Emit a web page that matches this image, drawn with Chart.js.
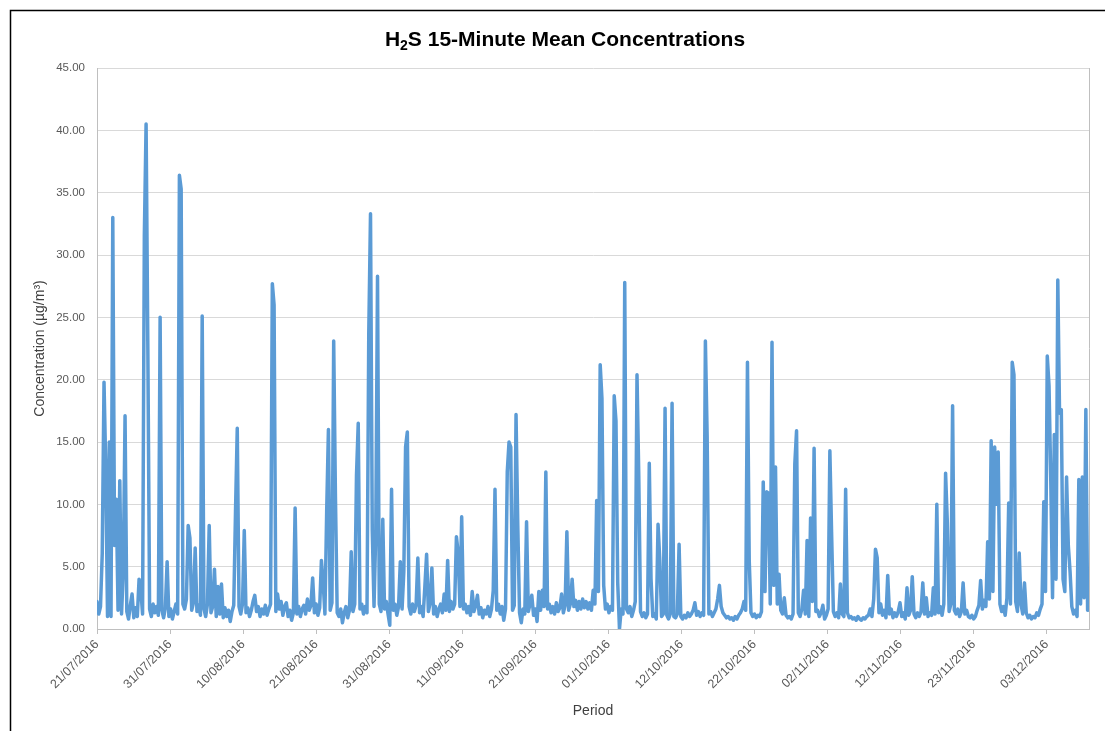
<!DOCTYPE html>
<html>
<head>
<meta charset="utf-8">
<title>H2S 15-Minute Mean Concentrations</title>
<script src="https://cdn.jsdelivr.net/npm/chart.js@4.4.0/dist/chart.umd.min.js"></script>
<style>
    html, body { margin: 0; padding: 0; background: #fff; }
    #wrap { position: relative; width: 1105px; height: 731px; }
</style>
</head>
<body>
<div id="wrap"><canvas id="myChart" width="1105" height="731"></canvas></div>
<script>
// readings kept every 6 hours (day 0 = 21/07/2016 00:00)
var stepDays = 0.25;
// Excel put a date label on every 1000th 15-minute reading
var daysPerLabel = 1000 / 96;
var lastDay = 141.45;

var tickLabels = ['21/07/2016', '31/07/2016', '10/08/2016', '21/08/2016', '31/08/2016',
    '11/09/2016', '21/09/2016', '01/10/2016', '12/10/2016', '22/10/2016',
    '02/11/2016', '12/11/2016', '23/11/2016', '03/12/2016'];

var yTicks = [0, 5, 10, 15, 20, 25, 30, 35, 40, 45];

// H2S concentration (ug/m3)
var h2s = [
    // 21/07 - 30/07
    2.2, 1.2, 1.8, 6.1, 19.8, 12.9, 1.0, 15.0, 1.0, 33.0, 6.7, 10.4, 1.5, 11.9, 1.2, 4.6, 17.1, 1.4, 0.8, 1.9,
    2.8, 0.9, 1.7, 1.0, 4.0, 3.1, 1.2, 31.5, 40.5, 22.5, 1.6, 1.0, 2.0, 1.3, 1.8, 1.1, 25.0, 1.5, 0.9, 1.7,
    // 31/07 - 09/08
    5.4, 1.0, 1.6, 0.8, 1.4, 2.0, 1.2, 36.4, 35.3, 2.0, 1.6, 2.4, 8.3, 7.3, 1.5, 2.1, 6.5, 1.4, 1.9, 1.1,
    25.1, 1.6, 1.0, 2.0, 8.3, 1.3, 1.8, 4.8, 1.0, 3.4, 1.2, 3.6, 0.9, 1.7, 1.0, 1.5, 0.6, 1.4, 1.9, 9.4,
    // 10/08 - 19/08
    16.1, 1.8, 1.2, 2.0, 7.9, 1.3, 1.7, 1.0, 1.5, 2.2, 2.7, 1.4, 1.8, 1.0, 1.6, 1.2, 1.9, 1.1, 1.6, 2.0,
    27.7, 26.0, 1.4, 2.8, 1.6, 2.2, 1.1, 1.8, 2.1, 1.0, 1.5, 0.7, 1.3, 9.7, 1.2, 1.8, 1.0, 1.6, 1.9, 1.2,
    // 20/08 - 29/08
    2.4, 1.5, 1.9, 4.1, 1.3, 2.0, 1.1, 1.7, 5.5, 3.7, 1.2, 9.4, 16.0, 1.5, 2.1, 23.1, 10.6, 1.3, 1.0, 1.6,
    0.5, 1.3, 1.8, 0.9, 1.5, 6.2, 1.4, 2.0, 12.3, 16.5, 1.6, 2.0, 1.2, 1.8, 1.3, 23.6, 33.3, 7.9, 1.8, 7.8,
    // 30/08 - 08/09
    28.3, 2.0, 1.4, 8.8, 1.6, 2.2, 1.2, 0.3, 11.2, 1.5, 2.0, 1.1, 1.8, 5.4, 1.6, 4.6, 14.6, 15.8, 1.8, 1.2,
    2.0, 1.4, 1.9, 5.7, 1.3, 1.8, 1.0, 3.4, 6.0, 1.4, 2.1, 4.9, 1.2, 1.8, 1.0, 1.6, 2.0, 1.3, 2.8, 1.5,
    // 09/09 - 18/09
    5.5, 1.4, 2.2, 1.6, 2.0, 7.4, 6.1, 1.8, 9.0, 1.6, 2.0, 1.3, 1.8, 1.1, 3.0, 1.4, 1.9, 2.7, 1.2, 1.7,
    0.9, 1.5, 1.2, 1.8, 1.0, 1.6, 3.1, 11.2, 1.5, 2.0, 1.2, 1.8, 0.7, 1.6, 12.6, 15.0, 14.6, 1.5, 1.9, 17.2,
    // 19/09 - 28/09
    8.3, 1.3, 0.5, 1.6, 1.2, 8.6, 1.4, 2.0, 2.7, 1.1, 1.6, 0.6, 3.0, 1.5, 3.1, 1.8, 12.6, 1.6, 2.0, 1.3,
    1.8, 1.2, 2.1, 1.4, 1.7, 2.8, 1.3, 1.9, 7.8, 1.5, 2.0, 4.0, 1.8, 2.3, 1.5, 2.2, 1.6, 2.4, 1.7, 2.2,
    // 29/09 - 08/10
    1.6, 2.1, 1.5, 3.1, 2.0, 10.3, 3.0, 21.2, 18.5, 3.5, 1.6, 2.0, 1.3, 1.8, 1.5, 18.7, 16.7, 3.7, 0.0, 1.6,
    1.2, 27.8, 1.6, 1.3, 1.8, 1.0, 1.5, 2.2, 20.4, 12.3, 1.4, 1.0, 1.3, 0.9, 1.2, 13.3, 4.0, 1.0, 1.2, 0.8,
    // 09/10 - 18/10
    8.4, 5.5, 1.0, 1.2, 17.7, 1.1, 0.8, 1.2, 18.1, 1.0, 0.9, 1.2, 6.8, 1.0, 0.8, 1.1, 0.9, 1.3, 1.0, 1.2,
    1.5, 2.1, 1.1, 1.4, 1.0, 1.3, 1.1, 23.1, 15.5, 1.2, 1.4, 1.0, 1.3, 1.6, 2.4, 3.5, 1.8, 1.3, 1.1, 0.9,
    // 19/10 - 28/10
    1.0, 0.8, 0.9, 0.7, 1.0, 0.8, 1.1, 1.3, 1.6, 2.2, 1.5, 21.4, 5.5, 1.3, 1.0, 1.2, 0.9, 1.1, 1.0, 1.4,
    11.8, 3.0, 11.0, 10.9, 2.0, 23.0, 3.5, 13.0, 2.0, 4.4, 1.5, 1.2, 2.5, 1.1, 0.9, 1.0, 0.8, 1.2, 13.2, 15.9,
    // 29/10 - 07/11
    1.3, 1.0, 1.6, 3.1, 1.2, 7.1, 1.0, 8.9, 2.2, 14.5, 1.4, 1.5, 1.0, 1.3, 1.9, 0.8, 1.1, 1.6, 14.3, 7.6,
    1.4, 1.0, 1.3, 0.9, 3.6, 1.2, 1.0, 11.2, 1.3, 0.9, 1.0, 0.8, 0.9, 0.7, 1.0, 0.8, 0.7, 0.9, 0.8, 1.0,
    // 08/11 - 17/11
    1.1, 1.6, 1.0, 2.4, 6.4, 5.7, 1.3, 2.0, 1.1, 1.5, 0.9, 4.3, 1.2, 1.6, 0.9, 1.3, 1.0, 1.4, 2.1, 1.0,
    1.3, 0.8, 3.3, 1.1, 1.5, 4.2, 1.2, 0.9, 1.3, 1.0, 1.4, 3.7, 1.2, 2.5, 1.0, 1.3, 1.1, 3.3, 1.2, 10.0,
    // 18/11 - 27/11
    1.3, 1.8, 1.1, 2.0, 12.5, 8.5, 1.4, 2.0, 17.9, 1.5, 1.2, 1.6, 1.0, 1.4, 3.7, 1.2, 1.5, 1.0, 0.9, 1.1,
    0.8, 1.0, 1.5, 1.9, 3.9, 1.6, 2.3, 1.8, 7.0, 2.4, 15.1, 3.0, 14.6, 10.0, 14.2, 2.0, 1.4, 1.8, 1.1, 2.5,
    // 28/11 - 09/12
    10.1, 2.0, 21.4, 20.4, 2.2, 1.4, 6.1, 2.0, 1.2, 3.7, 1.3, 0.9, 1.1, 0.8, 1.0, 0.9, 1.3, 1.1, 1.6, 2.0,
    10.2, 3.0, 21.9, 19.5, 11.9, 2.5, 15.6, 4.0, 28.0, 17.3, 17.6, 4.0, 3.0, 12.2, 6.7, 4.6, 1.8, 1.2, 1.5, 1.0,
    12.0, 2.0, 12.2, 2.5, 17.6, 1.5
];

var points = h2s.map(function (v, i) {
    return { x: i * stepDays, y: v };
});

var fontFamily = '"Liberation Sans", Arial, sans-serif';

// titles, outer frame and plot border
var decorations = {
    id: 'decorations',
    afterDraw: function (chart) {
        var ctx = chart.ctx;
        var area = chart.chartArea;
        ctx.save();

        // chart frame (cut off on the right and bottom)
        ctx.strokeStyle = '#000';
        ctx.lineWidth = 1.5;
        ctx.beginPath();
        ctx.moveTo(10.5, 731);
        ctx.lineTo(10.5, 10.5);
        ctx.lineTo(1105, 10.5);
        ctx.stroke();

        // right side of the plot area
        ctx.strokeStyle = '#bfbfbf';
        ctx.lineWidth = 1;
        ctx.beginPath();
        ctx.moveTo(Math.round(area.right) + 0.5, area.top);
        ctx.lineTo(Math.round(area.right) + 0.5, area.bottom);
        ctx.stroke();

        // title with subscript 2
        ctx.fillStyle = '#000';
        ctx.textBaseline = 'alphabetic';
        ctx.textAlign = 'left';
        var big = 'bold 21px ' + fontFamily;
        var small = 'bold 14px ' + fontFamily;
        ctx.font = big;
        var wH = ctx.measureText('H').width;
        var rest = 'S 15-Minute Mean Concentrations';
        var wRest = ctx.measureText(rest).width;
        ctx.font = small;
        var w2 = ctx.measureText('2').width;
        var x0 = 565 - (wH + w2 + wRest) / 2;
        ctx.font = big;
        ctx.fillText('H', x0, 46);
        ctx.font = small;
        ctx.fillText('2', x0 + wH, 50);
        ctx.font = big;
        ctx.fillText(rest, x0 + wH + w2, 46);

        // axis titles
        ctx.fillStyle = '#404040';
        ctx.font = '14px ' + fontFamily;
        ctx.textAlign = 'center';
        ctx.textBaseline = 'middle';
        ctx.fillText('Period', (area.left + area.right) / 2, 711);
        ctx.translate(40, (area.top + area.bottom) / 2);
        ctx.rotate(-Math.PI / 2);
        ctx.fillText('Concentration (\u00b5g/m\u00b3)', 0, 0);
        ctx.restore();
    }
};

var ctx = document.getElementById('myChart').getContext('2d');
var chart = new Chart(ctx, {
    type: 'line',
    data: {
        datasets: [{
            label: 'H2S',
            data: points,
            borderColor: '#5b9bd5',
            backgroundColor: '#5b9bd5',
            borderWidth: 3.5,
            borderJoinStyle: 'round',
            borderCapStyle: 'round',
            pointRadius: 0,
            tension: 0,
            fill: false
        }]
    },
    options: {
        responsive: false,
        animation: false,
        events: [],
        layout: { padding: { top: 68, right: 16, left: 0, bottom: 0 } },
        plugins: {
            legend: { display: false },
            title: { display: false },
            tooltip: { enabled: false }
        },
        scales: {
            x: {
                type: 'linear',
                min: 0,
                max: lastDay,
                afterBuildTicks: function (axis) {
                    axis.ticks = tickLabels.map(function (l, i) {
                        return { value: i * daysPerLabel };
                    });
                },
                afterFit: function (scale) { scale.height = 102; },
                ticks: {
                    autoSkip: false,
                    minRotation: 45,
                    maxRotation: 45,
                    padding: 3,
                    color: '#595959',
                    font: { family: fontFamily, size: 12.5 },
                    callback: function (value, index) { return tickLabels[index]; }
                },
                grid: {
                    drawOnChartArea: false,
                    drawTicks: true,
                    tickLength: 5,
                    color: '#bfbfbf'
                },
                border: { display: true, color: '#bfbfbf' }
            },
            y: {
                min: 0,
                max: 45,
                afterBuildTicks: function (axis) {
                    axis.ticks = yTicks.map(function (v) { return { value: v }; });
                },
                afterFit: function (scale) { scale.width = 97; },
                ticks: {
                    padding: 12,
                    color: '#595959',
                    font: { family: fontFamily, size: 11.5 },
                    callback: function (value) { return value.toFixed(2); }
                },
                grid: { color: '#d9d9d9', drawTicks: false },
                border: { display: true, color: '#bfbfbf' }
            }
        }
    },
    plugins: [decorations]
});
</script>
</body>
</html>
